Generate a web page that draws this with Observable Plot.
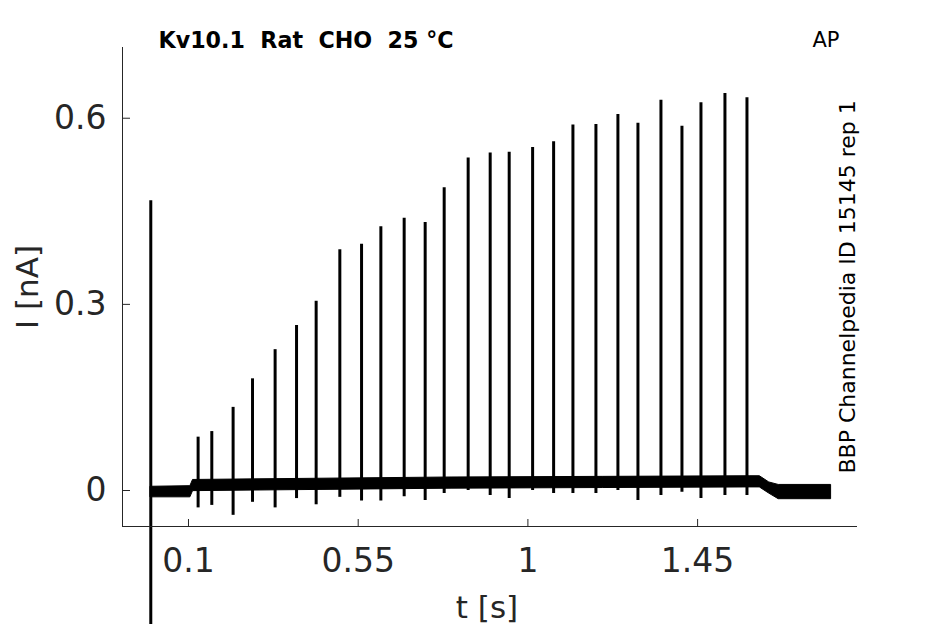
<!DOCTYPE html>
<html>
<head>
<meta charset="utf-8">
<script src="https://cdn.jsdelivr.net/npm/d3@7"></script>
<script src="https://cdn.jsdelivr.net/npm/@observablehq/plot@0.6"></script>
<style>
  html, body { margin: 0; padding: 0; background: #fff; }
  svg text { white-space: pre; }
</style>
</head>
<body>
<div id="chart"></div>
<script>
// ---- data ----
const spikeTimes = [0.000, 0.1255, 0.1618, 0.2183, 0.2698, 0.3297, 0.3865, 0.4385, 0.5013, 0.5589,
  0.6101, 0.6719, 0.7276, 0.7780, 0.8416, 0.9000, 0.9504, 1.0125, 1.0682, 1.1194,
  1.1804, 1.2387, 1.2918, 1.3528, 1.4085, 1.4589, 1.5225, 1.5809];
const spikePeaks = [0.467, 0.086, 0.095, 0.134, 0.180, 0.227, 0.266, 0.305, 0.388, 0.397,
  0.425, 0.439, 0.432, 0.488, 0.536, 0.544, 0.545, 0.553, 0.562, 0.589,
  0.590, 0.606, 0.592, 0.629, 0.587, 0.625, 0.640, 0.633];
const spikeDips = [-0.22, -0.028, -0.024, -0.040, -0.019, -0.028, -0.013, -0.023, -0.011, -0.017,
  -0.017, -0.010, -0.016, -0.005, 0.000, -0.008, -0.013, 0.000, -0.005, -0.005,
  -0.005, 0.000, -0.016, -0.008, -0.003, -0.013, -0.008, -0.008];

const baseTimes = [0.000, 0.105, 0.112, 0.45, 0.80, 1.20, 1.59, 1.615, 1.64, 1.665, 1.804];
const baseLow   = [-0.011, -0.011, -0.001, 0.001, 0.003, 0.004, 0.005, 0.005, -0.005, -0.014, -0.014];
const baseHigh  = [0.006, 0.007, 0.017, 0.019, 0.021, 0.022, 0.023, 0.023, 0.013, 0.009, 0.009];

const xTicks = [0.1, 0.55, 1, 1.45];
const yTicks = [0, 0.3, 0.6];
const xDomain = [-0.075, 1.874];
const yDomain = [-0.058, 0.714];

const titleText = "Kv10.1  Rat  CHO  25 °C";
const tagText = "AP";
const sideText = "BBP Channelpedia ID 15145 rep 1";
const xLabel = "t [s]";
const yLabel = "I [nA]";

// ---- tables ----
const spikes = spikeTimes.map((t, i) => ({t, peak: spikePeaks[i], dip: spikeDips[i]}));
const band = baseTimes.map((t, i) => ({t, lo: baseLow[i], hi: baseHigh[i]}));

const W = 945, H = 624, ML = 122, MR = 88, MT = 47, MB = 98;
const FW = W - ML - MR, FH = H - MT - MB;
const axisColor = "#262626";

const chart = Plot.plot({
  width: W, height: H,
  marginLeft: ML, marginRight: MR, marginTop: MT, marginBottom: MB,
  x: {domain: xDomain},
  y: {domain: yDomain},
  style: {fontFamily: "DejaVu Sans", color: axisColor, background: "white", overflow: "hidden"},
  marks: [
    Plot.areaY(band, {x: "t", y1: "lo", y2: "hi", fill: "black", stroke: "black", strokeWidth: 1}),
    Plot.ruleX(spikes, {x: "t", y1: "dip", y2: "peak", stroke: "black", strokeWidth: 3}),
    Plot.ruleX([xDomain[0]], {stroke: axisColor, strokeWidth: 1}),
    Plot.ruleY([yDomain[0]], {stroke: axisColor, strokeWidth: 1}),
    Plot.ruleX(xTicks, {x: d => d, insetTop: FH - 7, stroke: axisColor}),
    Plot.ruleY(yTicks, {y: d => d, insetRight: FW - 8, stroke: axisColor}),
    Plot.axisX(xTicks, {tickSize: 0, tickPadding: 22.5, fontSize: 33, label: null, tickFormat: d => String(d), fill: axisColor}),
    Plot.axisY(yTicks, {tickSize: 0, tickPadding: 16, fontSize: 33, label: null, tickFormat: d => String(d), fill: axisColor}),
    Plot.text([xLabel], {frameAnchor: "bottom", dx: -3, dy: 91.5, lineAnchor: "bottom", fontSize: 31, fill: axisColor}),
    Plot.text([yLabel], {frameAnchor: "left", dx: -84.5, rotate: -90, textAnchor: "middle", lineAnchor: "bottom", fontSize: 31, fill: axisColor}),
    Plot.text([titleText], {frameAnchor: "top-left", dx: 36, dy: 0, textAnchor: "start", lineAnchor: "bottom", fontSize: 22.2, fontWeight: "bold", fill: "black"}),
    Plot.text([tagText], {frameAnchor: "top-right", dx: -45, dy: -1, textAnchor: "start", lineAnchor: "bottom", fontSize: 21, fill: "black"}),
    Plot.text([sideText], {frameAnchor: "bottom-right", dx: -3, dy: -53, rotate: -90, textAnchor: "start", lineAnchor: "bottom", fontSize: 22, fill: "black"})
  ]
});
document.getElementById("chart").appendChild(chart);
</script>
</body>
</html>
